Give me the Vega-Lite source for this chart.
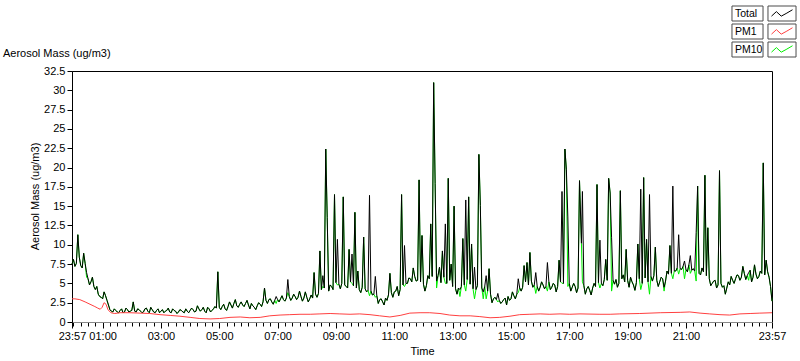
{
  "$schema": "https://vega.github.io/schema/vega-lite/v6.json",
  "autosize": "none",
  "width": 700,
  "height": 251,
  "padding": {"left": 72, "top": 71, "right": 28, "bottom": 39},
  "background": "white",
  "title": {"text": "Aerosol Mass (ug/m3)", "anchor": "start", "frame": "group", "dx": -69, "offset": -62, "fontSize": 11, "fontWeight": "normal", "font": "Liberation Sans", "color": "#000", "baseline": "alphabetic"},
  "config": {
    "view": {"stroke": "#000", "strokeWidth": 1},
    "axis": {"labelFont": "Liberation Sans", "labelFontSize": 11, "labelColor": "#000", "titleFont": "Liberation Sans", "titleFontSize": 11, "titleFontWeight": "normal", "titleColor": "#000", "grid": false, "tickColor": "#000", "labelFlush": false, "labelOverlap": false, "labelBound": false},
    "legend": {"labelFont": "Liberation Sans", "labelColor": "#000"}
  },
  "datasets": {
    "tot": [
      {"t":0,"Total":7.5,"PM10":7.5},{"t":6,"Total":7.2,"PM10":7.2},{"t":12,"Total":11.3,"PM10":11.3},{"t":18,"Total":7.3,"PM10":7.3},{"t":24,"Total":8.9,"PM10":8.9},{"t":30,"Total":6.4,"PM10":5.8},{"t":36,"Total":4.8,"PM10":4.8},{"t":42,"Total":5.8,"PM10":5.8},{"t":48,"Total":4.2,"PM10":4.2},{"t":54,"Total":3.6,"PM10":3.6},
      {"t":60,"Total":3.2,"PM10":3.2},{"t":66,"Total":3.9,"PM10":3.9},{"t":72,"Total":2.8,"PM10":2.8},{"t":78,"Total":1.6,"PM10":1.6},{"t":84,"Total":1.3,"PM10":1.3},{"t":90,"Total":1.5,"PM10":1.5},{"t":96,"Total":1.2,"PM10":1.2},{"t":102,"Total":1.7,"PM10":1.7},{"t":108,"Total":1.3,"PM10":1.3},{"t":114,"Total":1.6,"PM10":1.6},
      {"t":120,"Total":1.4,"PM10":1.4},{"t":126,"Total":2.6,"PM10":2.6},{"t":132,"Total":1.3,"PM10":1.3},{"t":138,"Total":1.6,"PM10":1.6},{"t":144,"Total":1.2,"PM10":1.2},{"t":150,"Total":1.7,"PM10":1.7},{"t":156,"Total":1.4,"PM10":1.4},{"t":162,"Total":1.9,"PM10":1.9},{"t":168,"Total":1.3,"PM10":1.3},{"t":174,"Total":1.5,"PM10":1.5},
      {"t":180,"Total":1.2,"PM10":1.2},{"t":186,"Total":1.6,"PM10":1.6},{"t":192,"Total":1.4,"PM10":1.4},{"t":198,"Total":1.8,"PM10":1.8},{"t":204,"Total":1.2,"PM10":1.2},{"t":210,"Total":1.5,"PM10":1.5},{"t":216,"Total":1.1,"PM10":1.1},{"t":222,"Total":1.6,"PM10":1.6},{"t":228,"Total":1.3,"PM10":1.3},{"t":234,"Total":1.7,"PM10":1.7},
      {"t":240,"Total":1.2,"PM10":1.2},{"t":246,"Total":1.8,"PM10":1.8},{"t":252,"Total":1.3,"PM10":1.3},{"t":258,"Total":2.1,"PM10":2.1},{"t":264,"Total":1.4,"PM10":1.4},{"t":270,"Total":1.9,"PM10":1.9},{"t":276,"Total":1.2,"PM10":1.2},{"t":282,"Total":1.7,"PM10":1.7},{"t":288,"Total":1.5,"PM10":1.5},{"t":294,"Total":2.0,"PM10":2.0},
      {"t":300,"Total":6.5,"PM10":6.5},{"t":306,"Total":1.6,"PM10":1.6},{"t":312,"Total":2.3,"PM10":2.3},{"t":318,"Total":1.5,"PM10":1.5},{"t":324,"Total":2.6,"PM10":2.6},{"t":330,"Total":1.8,"PM10":1.8},{"t":336,"Total":2.9,"PM10":2.9},{"t":342,"Total":1.9,"PM10":1.9},{"t":348,"Total":2.6,"PM10":2.6},{"t":354,"Total":2.0,"PM10":2.0},
      {"t":360,"Total":2.8,"PM10":2.8},{"t":366,"Total":1.7,"PM10":1.7},{"t":372,"Total":2.1,"PM10":2.1},{"t":378,"Total":1.6,"PM10":1.6},{"t":384,"Total":2.5,"PM10":2.5},{"t":390,"Total":2.0,"PM10":2.0},{"t":396,"Total":4.4,"PM10":4.4},{"t":402,"Total":2.4,"PM10":2.4},{"t":408,"Total":3.0,"PM10":3.0},{"t":414,"Total":2.3,"PM10":2.3},
      {"t":420,"Total":3.3,"PM10":2.4},{"t":426,"Total":2.6,"PM10":2.6},{"t":432,"Total":3.4,"PM10":3.4},{"t":438,"Total":2.7,"PM10":2.7},{"t":444,"Total":5.5,"PM10":3.8},{"t":450,"Total":2.8,"PM10":2.8},{"t":456,"Total":3.6,"PM10":3.6},{"t":462,"Total":2.9,"PM10":2.9},{"t":468,"Total":4.0,"PM10":4.0},{"t":474,"Total":2.7,"PM10":2.7},
      {"t":480,"Total":3.9,"PM10":3.9},{"t":486,"Total":2.6,"PM10":2.6},{"t":492,"Total":3.5,"PM10":3.5},{"t":498,"Total":6.4,"PM10":6.4},{"t":504,"Total":3.2,"PM10":3.2},{"t":510,"Total":9.2,"PM10":9.2},{"t":516,"Total":6.0,"PM10":4.6},{"t":522,"Total":22.4,"PM10":22.4},{"t":525,"Total":13.5,"PM10":13.5},{"t":528,"Total":4.0,"PM10":4.0},{"t":534,"Total":4.6,"PM10":4.6},
      {"t":540,"Total":16.5,"PM10":16.5},{"t":546,"Total":10.7,"PM10":4.8},{"t":552,"Total":4.3,"PM10":4.3},{"t":558,"Total":16.2,"PM10":16.2},{"t":564,"Total":4.6,"PM10":4.6},{"t":570,"Total":9.4,"PM10":9.4},{"t":576,"Total":8.8,"PM10":5.0},{"t":582,"Total":14.2,"PM10":14.2},{"t":588,"Total":6.6,"PM10":6.6},{"t":594,"Total":3.8,"PM10":3.8},
      {"t":600,"Total":11.0,"PM10":11.0},{"t":606,"Total":3.9,"PM10":3.9},{"t":612,"Total":16.4,"PM10":3.4},{"t":618,"Total":3.5,"PM10":3.5},{"t":624,"Total":5.9,"PM10":3.2},{"t":630,"Total":2.4,"PM10":2.4},{"t":636,"Total":3.0,"PM10":3.0},{"t":642,"Total":2.2,"PM10":2.2},{"t":648,"Total":2.8,"PM10":2.8},{"t":654,"Total":6.3,"PM10":6.3},
      {"t":660,"Total":3.2,"PM10":3.2},{"t":666,"Total":4.0,"PM10":4.0},{"t":672,"Total":3.4,"PM10":3.4},{"t":678,"Total":16.5,"PM10":16.5},{"t":684,"Total":9.9,"PM10":4.6},{"t":690,"Total":5.0,"PM10":5.0},{"t":696,"Total":5.6,"PM10":5.6},{"t":702,"Total":7.0,"PM10":7.0},{"t":708,"Total":5.3,"PM10":5.3},{"t":714,"Total":18.4,"PM10":18.4},
      {"t":720,"Total":11.2,"PM10":11.2},{"t":726,"Total":4.0,"PM10":4.0},{"t":732,"Total":6.0,"PM10":6.0},{"t":738,"Total":12.7,"PM10":12.7},{"t":744,"Total":31.0,"PM10":31.0},{"t":747,"Total":17.9,"PM10":17.9},{"t":750,"Total":5.3,"PM10":4.4},{"t":756,"Total":7.1,"PM10":7.1},{"t":762,"Total":9.2,"PM10":9.2},{"t":768,"Total":12.7,"PM10":5.0},{"t":774,"Total":18.6,"PM10":18.6},
      {"t":780,"Total":7.5,"PM10":7.5},{"t":786,"Total":15.0,"PM10":15.0},{"t":792,"Total":3.6,"PM10":3.6},{"t":798,"Total":4.2,"PM10":3.3},{"t":804,"Total":10.8,"PM10":10.8},{"t":810,"Total":15.8,"PM10":4.0},{"t":816,"Total":16.2,"PM10":16.2},{"t":822,"Total":10.1,"PM10":10.1},{"t":828,"Total":7.1,"PM10":3.0},{"t":834,"Total":4.7,"PM10":4.7},
      {"t":837,"Total":21.7,"PM10":21.7},{"t":840,"Total":15.1,"PM10":15.1},{"t":846,"Total":3.9,"PM10":3.0},{"t":852,"Total":6.0,"PM10":3.0},{"t":858,"Total":6.9,"PM10":6.9},{"t":864,"Total":2.5,"PM10":2.5},{"t":870,"Total":3.2,"PM10":3.2},{"t":876,"Total":3.7,"PM10":2.6},{"t":882,"Total":2.4,"PM10":2.4},{"t":888,"Total":2.9,"PM10":2.9},{"t":894,"Total":2.2,"PM10":2.2},
      {"t":900,"Total":2.8,"PM10":2.8},{"t":906,"Total":3.9,"PM10":3.9},{"t":912,"Total":3.0,"PM10":3.0},{"t":918,"Total":5.6,"PM10":3.8},{"t":924,"Total":4.0,"PM10":4.0},{"t":930,"Total":7.3,"PM10":7.3},{"t":936,"Total":7.7,"PM10":7.7},{"t":942,"Total":9.0,"PM10":9.0},{"t":948,"Total":4.5,"PM10":4.5},{"t":954,"Total":6.4,"PM10":3.7},
      {"t":960,"Total":4.0,"PM10":4.0},{"t":966,"Total":5.2,"PM10":5.2},{"t":972,"Total":4.3,"PM10":4.3},{"t":978,"Total":7.7,"PM10":4.0},{"t":984,"Total":4.2,"PM10":4.2},{"t":990,"Total":5.0,"PM10":5.0},{"t":996,"Total":3.9,"PM10":3.9},{"t":1002,"Total":8.0,"PM10":8.0},{"t":1008,"Total":16.9,"PM10":5.0},{"t":1014,"Total":22.4,"PM10":22.4},
      {"t":1017,"Total":19.7,"PM10":19.7},{"t":1020,"Total":13.6,"PM10":4.6},{"t":1026,"Total":4.0,"PM10":4.0},{"t":1032,"Total":5.0,"PM10":5.0},{"t":1038,"Total":3.8,"PM10":3.8},{"t":1044,"Total":18.3,"PM10":18.3},{"t":1048,"Total":10.2,"PM10":10.2},{"t":1050,"Total":16.9,"PM10":5.2},{"t":1056,"Total":3.6,"PM10":3.6},{"t":1062,"Total":4.6,"PM10":4.6},{"t":1068,"Total":3.5,"PM10":3.5},{"t":1074,"Total":5.0,"PM10":5.0},
      {"t":1080,"Total":17.8,"PM10":17.8},{"t":1086,"Total":10.6,"PM10":4.4},{"t":1092,"Total":4.7,"PM10":4.7},{"t":1098,"Total":8.1,"PM10":8.1},{"t":1104,"Total":18.6,"PM10":18.6},{"t":1107,"Total":16.7,"PM10":16.7},{"t":1110,"Total":10.9,"PM10":4.0},{"t":1116,"Total":4.9,"PM10":4.9},{"t":1122,"Total":4.5,"PM10":4.5},{"t":1128,"Total":17.0,"PM10":17.0},{"t":1134,"Total":6.1,"PM10":6.1},
      {"t":1140,"Total":9.4,"PM10":9.4},{"t":1146,"Total":4.5,"PM10":4.5},{"t":1152,"Total":5.2,"PM10":5.2},{"t":1158,"Total":4.1,"PM10":4.1},{"t":1164,"Total":10.1,"PM10":10.1},{"t":1170,"Total":17.2,"PM10":4.2},{"t":1173,"Total":5.0,"PM10":5.0},{"t":1176,"Total":18.7,"PM10":18.7},{"t":1182,"Total":10.7,"PM10":10.7},{"t":1188,"Total":16.5,"PM10":3.6},{"t":1194,"Total":5.3,"PM10":5.3},
      {"t":1200,"Total":9.7,"PM10":9.7},{"t":1206,"Total":4.6,"PM10":4.6},{"t":1212,"Total":5.8,"PM10":5.8},{"t":1218,"Total":4.5,"PM10":4.0},{"t":1224,"Total":6.6,"PM10":6.6},{"t":1230,"Total":9.9,"PM10":9.9},{"t":1236,"Total":17.6,"PM10":5.6},{"t":1242,"Total":6.6,"PM10":6.6},{"t":1248,"Total":11.3,"PM10":6.2},{"t":1254,"Total":6.8,"PM10":6.8},
      {"t":1260,"Total":7.9,"PM10":5.6},{"t":1266,"Total":6.5,"PM10":6.5},{"t":1272,"Total":8.6,"PM10":6.3},{"t":1278,"Total":6.9,"PM10":6.9},{"t":1284,"Total":11.6,"PM10":5.3},{"t":1287,"Total":17.6,"PM10":17.6},{"t":1290,"Total":6.3,"PM10":6.3},{"t":1296,"Total":7.0,"PM10":7.0},{"t":1302,"Total":19.0,"PM10":19.0},{"t":1308,"Total":12.2,"PM10":12.2},{"t":1314,"Total":4.7,"PM10":4.7},
      {"t":1320,"Total":5.3,"PM10":5.3},{"t":1326,"Total":4.4,"PM10":4.4},{"t":1332,"Total":19.6,"PM10":19.6},{"t":1338,"Total":4.5,"PM10":4.5},{"t":1344,"Total":3.6,"PM10":3.6},{"t":1350,"Total":5.2,"PM10":5.2},{"t":1356,"Total":5.9,"PM10":5.9},{"t":1362,"Total":5.0,"PM10":5.0},{"t":1368,"Total":6.1,"PM10":6.1},{"t":1374,"Total":5.4,"PM10":5.4},
      {"t":1380,"Total":7.2,"PM10":7.2},{"t":1386,"Total":5.5,"PM10":5.5},{"t":1392,"Total":6.4,"PM10":5.4},{"t":1398,"Total":5.2,"PM10":5.2},{"t":1404,"Total":7.4,"PM10":7.4},{"t":1410,"Total":5.6,"PM10":5.6},{"t":1416,"Total":6.6,"PM10":6.6},{"t":1422,"Total":20.6,"PM10":20.6},{"t":1428,"Total":8.0,"PM10":8.0},{"t":1434,"Total":5.8,"PM10":5.8},{"t":1440,"Total":2.7,"PM10":2.7},
      {"t":3,"Total":8.1,"PM10":8.1},{"t":9,"Total":7.6,"PM10":7.6},{"t":15,"Total":8.4,"PM10":8.4},{"t":21,"Total":7.0,"PM10":7.0},{"t":27,"Total":7.6,"PM10":7.6},{"t":33,"Total":5.6,"PM10":5.6},{"t":39,"Total":5.2,"PM10":5.2},{"t":45,"Total":4.6,"PM10":4.6},{"t":51,"Total":4.6,"PM10":4.6},{"t":57,"Total":3.3,"PM10":3.3},
      {"t":63,"Total":3.0,"PM10":3.0},{"t":69,"Total":3.4,"PM10":3.4},{"t":75,"Total":2.2,"PM10":2.2},{"t":81,"Total":1.4,"PM10":1.4},{"t":87,"Total":1.7,"PM10":1.7},{"t":93,"Total":1.3,"PM10":1.3},{"t":99,"Total":1.5,"PM10":1.5},{"t":105,"Total":1.2,"PM10":1.2},{"t":111,"Total":1.8,"PM10":1.8},{"t":117,"Total":1.3,"PM10":1.3},
      {"t":123,"Total":1.5,"PM10":1.5},{"t":129,"Total":1.4,"PM10":1.4},{"t":135,"Total":1.7,"PM10":1.7},{"t":141,"Total":1.4,"PM10":1.4},{"t":147,"Total":1.3,"PM10":1.3},{"t":153,"Total":1.8,"PM10":1.8},{"t":159,"Total":1.2,"PM10":1.2},{"t":165,"Total":1.6,"PM10":1.6},{"t":171,"Total":1.2,"PM10":1.2},{"t":177,"Total":1.7,"PM10":1.7},
      {"t":183,"Total":1.4,"PM10":1.4},{"t":189,"Total":1.2,"PM10":1.2},{"t":195,"Total":1.5,"PM10":1.5},{"t":201,"Total":1.3,"PM10":1.3},{"t":207,"Total":1.7,"PM10":1.7},{"t":213,"Total":1.4,"PM10":1.4},{"t":219,"Total":1.3,"PM10":1.3},{"t":225,"Total":1.5,"PM10":1.5},{"t":231,"Total":1.2,"PM10":1.2},{"t":237,"Total":1.4,"PM10":1.4},
      {"t":243,"Total":1.5,"PM10":1.5},{"t":249,"Total":1.6,"PM10":1.6},{"t":255,"Total":1.4,"PM10":1.4},{"t":261,"Total":1.7,"PM10":1.7},{"t":267,"Total":1.6,"PM10":1.6},{"t":273,"Total":1.4,"PM10":1.4},{"t":279,"Total":1.9,"PM10":1.9},{"t":285,"Total":1.3,"PM10":1.3},{"t":291,"Total":1.7,"PM10":1.7},{"t":297,"Total":1.8,"PM10":1.8},
      {"t":303,"Total":1.9,"PM10":1.9},{"t":309,"Total":2.0,"PM10":2.0},{"t":315,"Total":1.7,"PM10":1.7},{"t":321,"Total":2.0,"PM10":2.0},{"t":327,"Total":2.2,"PM10":2.2},{"t":333,"Total":2.4,"PM10":2.4},{"t":339,"Total":2.1,"PM10":2.1},{"t":345,"Total":2.3,"PM10":2.3},{"t":351,"Total":2.2,"PM10":2.2},{"t":357,"Total":2.4,"PM10":2.4},
      {"t":363,"Total":2.2,"PM10":2.2},{"t":369,"Total":2.4,"PM10":2.4},{"t":375,"Total":1.9,"PM10":1.9},{"t":381,"Total":2.1,"PM10":2.1},{"t":387,"Total":2.3,"PM10":2.3},{"t":393,"Total":2.6,"PM10":2.6},{"t":399,"Total":2.8,"PM10":2.8},{"t":405,"Total":2.9,"PM10":2.9},{"t":411,"Total":2.6,"PM10":2.6},{"t":417,"Total":2.8,"PM10":2.8},
      {"t":423,"Total":2.9,"PM10":2.9},{"t":429,"Total":3.0,"PM10":3.0},{"t":435,"Total":2.9,"PM10":2.9},{"t":441,"Total":3.1,"PM10":3.1},{"t":447,"Total":3.3,"PM10":3.3},{"t":453,"Total":3.1,"PM10":3.1},{"t":459,"Total":3.3,"PM10":3.3},{"t":465,"Total":3.2,"PM10":3.2},{"t":471,"Total":3.3,"PM10":3.3},{"t":477,"Total":3.1,"PM10":3.1},
      {"t":483,"Total":3.2,"PM10":3.2},{"t":489,"Total":3.0,"PM10":3.0},{"t":495,"Total":3.1,"PM10":3.1},{"t":501,"Total":3.6,"PM10":3.6},{"t":507,"Total":3.7,"PM10":3.7},{"t":513,"Total":4.2,"PM10":4.2},{"t":519,"Total":4.4,"PM10":4.4},{"t":531,"Total":4.8,"PM10":4.8},{"t":537,"Total":4.2,"PM10":4.2},
      {"t":543,"Total":5.1,"PM10":5.1},{"t":549,"Total":4.9,"PM10":4.9},{"t":555,"Total":5.0,"PM10":5.0},{"t":561,"Total":4.8,"PM10":4.8},{"t":567,"Total":4.4,"PM10":4.4},{"t":573,"Total":5.2,"PM10":5.2},{"t":579,"Total":4.7,"PM10":4.7},{"t":585,"Total":4.4,"PM10":4.4},{"t":591,"Total":4.2,"PM10":4.2},{"t":597,"Total":4.5,"PM10":4.5},
      {"t":603,"Total":4.3,"PM10":4.3},{"t":609,"Total":4.1,"PM10":4.1},{"t":615,"Total":4.0,"PM10":4.0},{"t":621,"Total":3.6,"PM10":3.6},{"t":627,"Total":3.4,"PM10":3.4},{"t":633,"Total":2.9,"PM10":2.9},{"t":639,"Total":2.6,"PM10":2.6},{"t":645,"Total":3.1,"PM10":3.1},{"t":651,"Total":3.5,"PM10":3.5},{"t":657,"Total":3.8,"PM10":3.8},
      {"t":663,"Total":3.9,"PM10":3.9},{"t":669,"Total":4.6,"PM10":4.6},{"t":675,"Total":4.2,"PM10":4.2},{"t":681,"Total":4.8,"PM10":4.8},{"t":687,"Total":5.0,"PM10":5.0},{"t":693,"Total":5.7,"PM10":5.7},{"t":699,"Total":5.2,"PM10":5.2},{"t":705,"Total":5.9,"PM10":5.9},{"t":711,"Total":5.4,"PM10":5.4},{"t":717,"Total":5.2,"PM10":5.2},
      {"t":723,"Total":4.9,"PM10":4.9},{"t":729,"Total":4.7,"PM10":4.7},{"t":735,"Total":5.6,"PM10":5.6},{"t":741,"Total":5.9,"PM10":5.9},{"t":753,"Total":6.0,"PM10":6.0},{"t":759,"Total":5.1,"PM10":5.1},{"t":765,"Total":5.8,"PM10":5.8},{"t":771,"Total":5.0,"PM10":5.0},{"t":777,"Total":5.4,"PM10":5.4},
      {"t":783,"Total":4.6,"PM10":4.6},{"t":789,"Total":4.3,"PM10":4.3},{"t":795,"Total":4.4,"PM10":4.4},{"t":801,"Total":4.6,"PM10":4.6},{"t":807,"Total":4.8,"PM10":4.8},{"t":813,"Total":5.5,"PM10":5.5},{"t":819,"Total":4.9,"PM10":4.9},{"t":825,"Total":4.3,"PM10":4.3},{"t":831,"Total":4.2,"PM10":4.2},
      {"t":843,"Total":4.4,"PM10":4.4},{"t":849,"Total":4.6,"PM10":4.6},{"t":855,"Total":4.0,"PM10":4.0},{"t":861,"Total":3.6,"PM10":3.6},{"t":867,"Total":3.0,"PM10":3.0},{"t":873,"Total":2.9,"PM10":2.9},{"t":879,"Total":2.8,"PM10":2.8},{"t":885,"Total":2.6,"PM10":2.6},{"t":891,"Total":3.1,"PM10":3.1},{"t":897,"Total":3.3,"PM10":3.3},
      {"t":903,"Total":3.0,"PM10":3.0},{"t":909,"Total":3.4,"PM10":3.4},{"t":915,"Total":3.6,"PM10":3.6},{"t":921,"Total":4.4,"PM10":4.4},{"t":927,"Total":4.5,"PM10":4.5},{"t":933,"Total":5.2,"PM10":5.2},{"t":939,"Total":4.8,"PM10":4.8},{"t":945,"Total":5.3,"PM10":5.3},{"t":951,"Total":4.8,"PM10":4.8},{"t":957,"Total":4.6,"PM10":4.6},
      {"t":963,"Total":4.5,"PM10":4.5},{"t":969,"Total":4.8,"PM10":4.8},{"t":975,"Total":4.6,"PM10":4.6},{"t":981,"Total":5.2,"PM10":5.2},{"t":987,"Total":4.5,"PM10":4.5},{"t":993,"Total":4.8,"PM10":4.8},{"t":999,"Total":4.6,"PM10":4.6},{"t":1005,"Total":5.2,"PM10":5.2},{"t":1011,"Total":5.0,"PM10":5.0},
      {"t":1023,"Total":5.0,"PM10":5.0},{"t":1029,"Total":4.5,"PM10":4.5},{"t":1035,"Total":4.6,"PM10":4.6},{"t":1041,"Total":4.4,"PM10":4.4},{"t":1053,"Total":4.7,"PM10":4.7},{"t":1059,"Total":4.3,"PM10":4.3},{"t":1065,"Total":4.1,"PM10":4.1},{"t":1071,"Total":4.4,"PM10":4.4},{"t":1077,"Total":4.6,"PM10":4.6},
      {"t":1083,"Total":5.1,"PM10":5.1},{"t":1089,"Total":5.0,"PM10":5.0},{"t":1095,"Total":5.5,"PM10":5.5},{"t":1101,"Total":5.4,"PM10":5.4},{"t":1113,"Total":5.4,"PM10":5.4},{"t":1119,"Total":5.5,"PM10":5.5},{"t":1125,"Total":5.0,"PM10":5.0},{"t":1131,"Total":5.6,"PM10":5.6},{"t":1137,"Total":5.2,"PM10":5.2},
      {"t":1143,"Total":5.4,"PM10":5.4},{"t":1149,"Total":5.8,"PM10":5.8},{"t":1155,"Total":4.8,"PM10":4.8},{"t":1161,"Total":5.1,"PM10":5.1},{"t":1167,"Total":5.6,"PM10":5.6},{"t":1179,"Total":5.7,"PM10":5.7},{"t":1185,"Total":5.2,"PM10":5.2},{"t":1191,"Total":5.9,"PM10":5.9},{"t":1197,"Total":6.0,"PM10":6.0},
      {"t":1203,"Total":5.4,"PM10":5.4},{"t":1209,"Total":5.2,"PM10":5.2},{"t":1215,"Total":5.6,"PM10":5.6},{"t":1221,"Total":5.3,"PM10":5.3},{"t":1227,"Total":6.2,"PM10":6.2},{"t":1233,"Total":6.3,"PM10":6.3},{"t":1239,"Total":6.6,"PM10":6.6},{"t":1245,"Total":7.0,"PM10":7.0},{"t":1251,"Total":6.9,"PM10":6.9},{"t":1257,"Total":7.2,"PM10":7.2},
      {"t":1263,"Total":6.8,"PM10":6.8},{"t":1269,"Total":7.4,"PM10":7.4},{"t":1275,"Total":6.7,"PM10":6.7},{"t":1281,"Total":6.6,"PM10":6.6},{"t":1293,"Total":6.1,"PM10":6.1},{"t":1299,"Total":6.5,"PM10":6.5},{"t":1305,"Total":6.0,"PM10":6.0},{"t":1311,"Total":5.6,"PM10":5.6},{"t":1317,"Total":5.0,"PM10":5.0},
      {"t":1323,"Total":5.4,"PM10":5.4},{"t":1329,"Total":4.8,"PM10":4.8},{"t":1335,"Total":5.0,"PM10":5.0},{"t":1341,"Total":4.7,"PM10":4.7},{"t":1347,"Total":4.4,"PM10":4.4},{"t":1353,"Total":4.8,"PM10":4.8},{"t":1359,"Total":5.4,"PM10":5.4},{"t":1365,"Total":5.6,"PM10":5.6},{"t":1371,"Total":6.0,"PM10":6.0},{"t":1377,"Total":5.8,"PM10":5.8},
      {"t":1383,"Total":6.3,"PM10":6.3},{"t":1389,"Total":6.0,"PM10":6.0},{"t":1395,"Total":6.7,"PM10":6.7},{"t":1401,"Total":5.8,"PM10":5.8},{"t":1407,"Total":6.2,"PM10":6.2},{"t":1413,"Total":5.9,"PM10":5.9},{"t":1419,"Total":6.3,"PM10":6.3},{"t":1425,"Total":6.1,"PM10":6.1},{"t":1431,"Total":6.5,"PM10":6.5},{"t":1437,"Total":4.6,"PM10":4.6}
    ],
    "pm1": [
      {"t":0,"PM1":3.0},{"t":6,"PM1":3.0},{"t":16,"PM1":2.9},{"t":27,"PM1":2.6},{"t":37,"PM1":2.3},{"t":47,"PM1":2.0},{"t":53,"PM1":1.8},{"t":58,"PM1":1.65},{"t":62,"PM1":1.9},{"t":66,"PM1":2.5},{"t":70,"PM1":2.3},{"t":74,"PM1":1.6},{"t":80,"PM1":1.2},{"t":88,"PM1":1.1},{"t":99,"PM1":1.2},{"t":119,"PM1":1.2},{"t":140,"PM1":1.15},{"t":160,"PM1":1.1},{"t":181,"PM1":0.95},{"t":202,"PM1":0.85},{"t":222,"PM1":0.75},{"t":243,"PM1":0.6},{"t":263,"PM1":0.45},{"t":284,"PM1":0.4},{"t":304,"PM1":0.45},{"t":325,"PM1":0.6},{"t":346,"PM1":0.65},{"t":366,"PM1":0.55},{"t":387,"PM1":0.6},{"t":407,"PM1":0.8},{"t":428,"PM1":0.9},{"t":448,"PM1":0.95},{"t":469,"PM1":1.0},{"t":490,"PM1":1.0},{"t":510,"PM1":1.05},{"t":531,"PM1":1.1},{"t":551,"PM1":1.05},{"t":572,"PM1":1.0},{"t":592,"PM1":1.05},{"t":613,"PM1":0.95},{"t":633,"PM1":0.8},{"t":654,"PM1":0.65},{"t":675,"PM1":0.85},{"t":695,"PM1":1.15},{"t":716,"PM1":1.2},{"t":736,"PM1":1.2},{"t":757,"PM1":1.1},{"t":777,"PM1":0.9},{"t":798,"PM1":0.8},{"t":819,"PM1":0.8},{"t":839,"PM1":0.7},{"t":860,"PM1":0.55},{"t":880,"PM1":0.6},{"t":901,"PM1":0.75},{"t":921,"PM1":0.95},{"t":942,"PM1":1.0},{"t":963,"PM1":1.05},{"t":983,"PM1":1.0},{"t":1004,"PM1":1.05},{"t":1024,"PM1":1.0},{"t":1045,"PM1":1.05},{"t":1086,"PM1":1.0},{"t":1107,"PM1":1.0},{"t":1127,"PM1":1.05},{"t":1168,"PM1":1.1},{"t":1210,"PM1":1.2},{"t":1251,"PM1":1.25},{"t":1271,"PM1":1.3},{"t":1292,"PM1":1.15},{"t":1312,"PM1":1.05},{"t":1333,"PM1":0.95},{"t":1353,"PM1":0.9},{"t":1374,"PM1":1.05},{"t":1395,"PM1":1.1},{"t":1415,"PM1":1.15},{"t":1440,"PM1":1.2}
    ],
    "keys": []
  },
  "layer": [
    {
      "data": {"name": "tot"},
      "mark": {"type": "line", "strokeWidth": 1},
      "encoding": {
        "x": {"field": "t", "type": "quantitative", "scale": {"domain": [0, 1440], "nice": false, "zero": false},
          "axis": {"title": "Time", "titlePadding": 4, "orient": "bottom", "domainColor": "#888", "tickSize": {"condition": {"test": "datum.value==0||datum.value==1440||((datum.value+57)%120==0&&datum.value<1300)", "value": 6}, "value": 4}, "labelPadding": 2,
            "values": [0,3,18,33,48,63,78,93,108,123,138,153,168,183,198,213,228,243,258,273,288,303,318,333,348,363,378,393,408,423,438,453,468,483,498,513,528,543,558,573,588,603,618,633,648,663,678,693,708,723,738,753,768,783,798,813,828,843,858,873,888,903,918,933,948,963,978,993,1008,1023,1038,1053,1068,1083,1098,1113,1128,1143,1158,1173,1188,1203,1218,1233,1248,1263,1278,1293,1308,1323,1338,1353,1368,1383,1398,1413,1428,1440],
            "labelExpr": "datum.value==0||datum.value==1440?'23:57':(((datum.value+57)%120==0&&datum.value<1300)?((((datum.value-3)/60)<10?'0':'')+((datum.value-3)/60)+':00'):'')"}},
        "y": {"field": "PM10", "type": "quantitative", "scale": {"domain": [0, 32.5], "nice": false},
          "axis": {"title": "Aerosol Mass (ug/m3)", "values": [0,2.5,5,7.5,10,12.5,15,17.5,20,22.5,25,27.5,30,32.5], "labelExpr": "''+datum.value", "tickSize": 5, "labelPadding": 2, "domainColor": "#000", "titleX": -37, "titleY": 125, "titleAngle": 270, "titleAlign": "center", "titleBaseline": "middle"}},
        "color": {"datum": "PM10", "type": "nominal",
          "scale": {"domain": ["Total", "PM1", "PM10"], "range": ["#000000", "#ff4040", "#00ee00"]},
          "legend": {"orient": "none", "legendX": 644, "legendY": -65.5, "title": null, "padding": 0, "rowPadding": -2, "symbolSize": 225, "symbolStrokeWidth": 1, "symbolOffset": 58, "symbolFillColor": "transparent", "labelExpr": "''", "labelFontSize": 12,
            "symbolType": "M0,-1M0,1M-1.4,0.35L-0.75,-0.25L-0.1,0.35L0.55,0L1.4,-0.5"}}
      }
    },
    {
      "data": {"name": "tot"},
      "mark": {"type": "line", "strokeWidth": 1},
      "encoding": {
        "x": {"field": "t", "type": "quantitative", "scale": {"domain": [0, 1440], "nice": false, "zero": false},
          "axis": {"title": "Time", "titlePadding": 4, "orient": "bottom", "domainColor": "#888", "tickSize": {"condition": {"test": "datum.value==0||datum.value==1440||((datum.value+57)%120==0&&datum.value<1300)", "value": 6}, "value": 4}, "labelPadding": 2,
            "values": [0,3,18,33,48,63,78,93,108,123,138,153,168,183,198,213,228,243,258,273,288,303,318,333,348,363,378,393,408,423,438,453,468,483,498,513,528,543,558,573,588,603,618,633,648,663,678,693,708,723,738,753,768,783,798,813,828,843,858,873,888,903,918,933,948,963,978,993,1008,1023,1038,1053,1068,1083,1098,1113,1128,1143,1158,1173,1188,1203,1218,1233,1248,1263,1278,1293,1308,1323,1338,1353,1368,1383,1398,1413,1428,1440],
            "labelExpr": "datum.value==0||datum.value==1440?'23:57':(((datum.value+57)%120==0&&datum.value<1300)?((((datum.value-3)/60)<10?'0':'')+((datum.value-3)/60)+':00'):'')"}},
        "y": {"field": "Total", "type": "quantitative", "scale": {"domain": [0, 32.5], "nice": false},
          "axis": {"title": "Aerosol Mass (ug/m3)", "values": [0,2.5,5,7.5,10,12.5,15,17.5,20,22.5,25,27.5,30,32.5], "labelExpr": "''+datum.value", "tickSize": 5, "labelPadding": 2, "domainColor": "#000", "titleX": -37, "titleY": 125, "titleAngle": 270, "titleAlign": "center", "titleBaseline": "middle"}},
        "color": {"datum": "Total", "type": "nominal"}
      }
    },
    {
      "data": {"name": "pm1"},
      "mark": {"type": "line", "strokeWidth": 1},
      "encoding": {
        "x": {"field": "t", "type": "quantitative", "scale": {"domain": [0, 1440], "nice": false, "zero": false},
          "axis": {"title": "Time", "titlePadding": 4, "orient": "bottom", "domainColor": "#888", "tickSize": {"condition": {"test": "datum.value==0||datum.value==1440||((datum.value+57)%120==0&&datum.value<1300)", "value": 6}, "value": 4}, "labelPadding": 2,
            "values": [0,3,18,33,48,63,78,93,108,123,138,153,168,183,198,213,228,243,258,273,288,303,318,333,348,363,378,393,408,423,438,453,468,483,498,513,528,543,558,573,588,603,618,633,648,663,678,693,708,723,738,753,768,783,798,813,828,843,858,873,888,903,918,933,948,963,978,993,1008,1023,1038,1053,1068,1083,1098,1113,1128,1143,1158,1173,1188,1203,1218,1233,1248,1263,1278,1293,1308,1323,1338,1353,1368,1383,1398,1413,1428,1440],
            "labelExpr": "datum.value==0||datum.value==1440?'23:57':(((datum.value+57)%120==0&&datum.value<1300)?((((datum.value-3)/60)<10?'0':'')+((datum.value-3)/60)+':00'):'')"}},
        "y": {"field": "PM1", "type": "quantitative", "scale": {"domain": [0, 32.5], "nice": false},
          "axis": {"title": "Aerosol Mass (ug/m3)", "values": [0,2.5,5,7.5,10,12.5,15,17.5,20,22.5,25,27.5,30,32.5], "labelExpr": "''+datum.value", "tickSize": 5, "labelPadding": 2, "domainColor": "#000", "titleX": -37, "titleY": 125, "titleAngle": 270, "titleAlign": "center", "titleBaseline": "middle"}},
        "color": {"datum": "PM1", "type": "nominal"}
      }
    },
    {
      "data": {"name": "keys"},
      "mark": {"type": "point", "filled": false, "color": "#000", "strokeWidth": 1},
      "encoding": {
        "shape": {"field": "series", "type": "nominal",
          "scale": {"domain": ["Total key", "PM1 key", "PM10 key"], "range": ["M-4.27,-1H-0.13V1H-4.27Z M0.53,-1H4.27V1H0.53Z", "M-4.27,-1H-0.13V1H-4.27Z M0.53,-1H4.27V1H0.53Z", "M-4.27,-1H-0.13V1H-4.27Z M0.53,-1H4.27V1H0.53Z"]},
          "legend": {"orient": "none", "legendX": 644, "legendY": -65.5, "title": null, "padding": 0, "rowPadding": -2, "symbolSize": 225, "symbolStrokeWidth": 1, "symbolOffset": 40, "symbolStrokeColor": "#000", "symbolFillColor": "transparent", "labelOffset": -37, "labelFontSize": 10.5, "labelExpr": "replace(datum.label, ' key', '')"}}
      }
    }
  ]
}
